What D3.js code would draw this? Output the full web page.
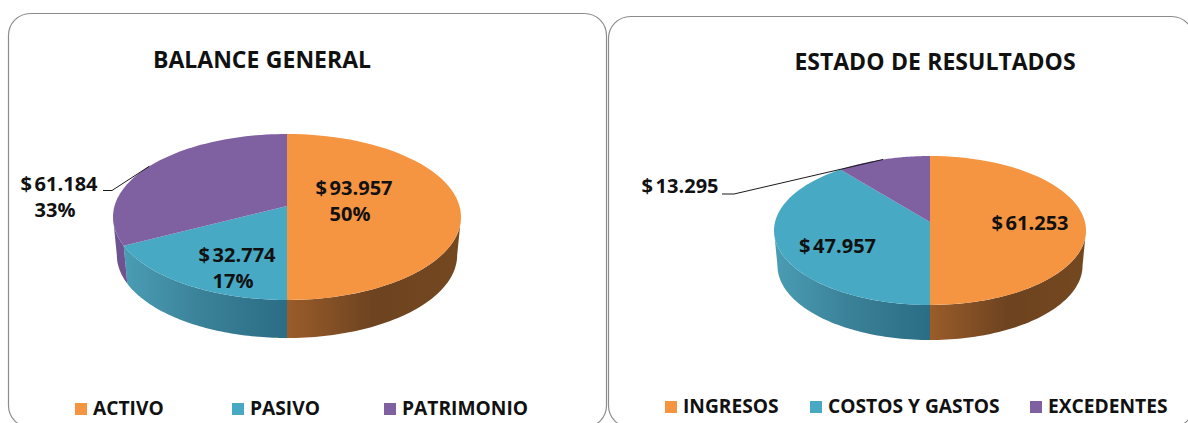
<!DOCTYPE html>
<html>
<head>
<meta charset="utf-8">
<script src="https://d3js.org/d3.v7.min.js"></script>
<style>
  html, body { margin: 0; padding: 0; background: #fff; overflow: hidden; }
  text { font-family: "Open Sans", sans-serif; font-weight: 700; fill: #111; }
</style>
</head>
<body>
<svg id="chart" width="1188" height="423"></svg>
<script>
// values
const balanceTitle = "BALANCE GENERAL";
const balanceCategories = ["ACTIVO", "PASIVO", "PATRIMONIO"];
const balanceValues = [93957, 32774, 61184];
const balancePercents = ["50%", "17%", "33%"];

const resultsTitle = "ESTADO DE RESULTADOS";
const resultsCategories = ["INGRESOS", "COSTOS Y GASTOS", "EXCEDENTES"];
const resultsValues = [61253, 47957, 13295];

const topColors = ["#f59441", "#47a9c4", "#7f60a0"];
const wallStops = [
  ["#9a5c2a", "#6d4320", "#74481f"],
  ["#4a9db4", "#3a8097", "#2a6d85"],
  ["#6d5390", "#6d5390", "#6d5390"]
];

const svg = d3.select("#chart");
const defs = svg.append("defs");
const money = v => "$ " + d3.format(",.0f")(v).replace(",", ".");

// frames of the two panels end just below the picture
svg.append("rect").attr("x", 8.5).attr("y", 13.5).attr("width", 598).attr("height", 414)
  .attr("rx", 22).attr("fill", "#fff").attr("stroke", "#8c8c8c").attr("stroke-width", 1.2);
svg.append("rect").attr("x", 608.5).attr("y", 16.5).attr("width", 585).attr("height", 411)
  .attr("rx", 22).attr("fill", "#fff").attr("stroke", "#8c8c8c").attr("stroke-width", 1.2);

drawPie({
  id: "bal", title: balanceTitle, titleX: 262, titleY: 68,
  categories: balanceCategories, values: balanceValues, percents: balancePercents,
  cx: 287, apexY: 206, top: 134, bottom: 300, rx: 174, depth: 38,
  labels: [[354, 195], [237, 262], [59, 191]],
  leaderFrom: [103, 190.5], leaderKnee: [112, 190.5], leaderSlice: 2,
  legendY: 414, legendSwatch: [75, 232, 384]
});

drawPie({
  id: "res", title: resultsTitle, titleX: 935, titleY: 70,
  categories: resultsCategories, values: resultsValues, percents: null,
  cx: 930, apexY: 222, top: 156, bottom: 305, rx: 156, depth: 35,
  labels: [[1030, 230], [837.5, 253], [680, 193]],
  leaderFrom: [722, 194], leaderKnee: [734, 194], leaderSlice: 2,
  legendY: 412, legendSwatch: [665, 810, 1030]
});

function drawPie(c) {
  const g = svg.append("g");

  g.append("text").text(c.title)
    .attr("x", c.titleX).attr("y", c.titleY)
    .attr("text-anchor", "middle").attr("font-size", 23).attr("word-spacing", 0.5);

  // Excel 3D pie: circle seen in perspective, so the apex sits above the ellipse centre
  const ratio = (c.bottom - c.apexY) / (c.apexY - c.top);
  const p = (ratio - 1) / (ratio + 1);
  const B = (c.bottom - c.apexY) * (1 - p);
  const A = c.rx * Math.sqrt(1 - p * p);
  const project = (a, drop) => {
    const u = Math.sin(a), v = -Math.cos(a), w = 1 - p * v;
    // the lower rim is further from the eye, so a bit narrower
    const k = drop ? 0.978 : 1;
    return [c.cx + k * A * u / w, c.apexY + B * v / w + (drop || 0)];
  };
  const rim = (a0, a1, drop) =>
    d3.range(0, 61).map(i => project(a0 + (a1 - a0) * i / 60, drop));

  const slices = d3.pie().sort(null)(c.values);
  const line = d3.line();

  // side walls, only the part that faces the viewer
  const wallStart = Math.acos(-p);
  const wallEnd = 2 * Math.PI - wallStart;
  slices.forEach((s, i) => {
    const a0 = Math.max(s.startAngle, wallStart);
    const a1 = Math.min(s.endAngle, wallEnd);
    if (a1 <= a0) return;
    const x0 = project(a0)[0], x1 = project(a1)[0];
    const grad = defs.append("linearGradient").attr("id", c.id + "wall" + i)
      .attr("gradientUnits", "userSpaceOnUse")
      .attr("x1", Math.min(x0, x1)).attr("x2", Math.max(x0, x1))
      .attr("y1", 0).attr("y2", 0);
    wallStops[i].forEach((col, k) => {
      grad.append("stop").attr("offset", k / 2).attr("stop-color", col);
    });
    const pts = rim(a0, a1).concat(rim(a1, a0, c.depth));
    g.append("path").attr("d", line(pts) + "Z").attr("fill", `url(#${c.id}wall${i})`);
  });

  // top face
  slices.forEach((s, i) => {
    const pts = [[c.cx, c.apexY]].concat(rim(s.startAngle, s.endAngle));
    g.append("path").attr("d", line(pts) + "Z").attr("fill", topColors[i]);
  });

  // leader of the outside label goes to the middle of its slice rim
  const ls = slices[c.leaderSlice];
  const end = project((ls.startAngle + ls.endAngle) / 2);
  g.append("path").attr("d", line([c.leaderFrom, c.leaderKnee, end]))
    .attr("fill", "none").attr("stroke", "#1a1a1a").attr("stroke-width", 1);

  // data labels
  c.values.forEach((v, i) => {
    g.append("text").attr("text-anchor", "middle").attr("font-size", 20).attr("word-spacing", -2.5)
      .attr("x", c.labels[i][0]).attr("y", c.labels[i][1]).text(money(v));
    if (c.percents) {
      g.append("text").attr("text-anchor", "middle").attr("font-size", 20)
        .attr("x", c.labels[i][0] - 4).attr("y", c.labels[i][1] + 26)
        .text(c.percents[i]);
    }
  });

  // legend
  c.categories.forEach((name, i) => {
    g.append("rect").attr("x", c.legendSwatch[i]).attr("y", c.legendY - 11)
      .attr("width", 12).attr("height", 12).attr("fill", topColors[i]);
    g.append("text").text(name).attr("x", c.legendSwatch[i] + 18).attr("y", c.legendY + 1)
      .attr("font-size", 19.2);
  });
}
</script>
</body>
</html>
